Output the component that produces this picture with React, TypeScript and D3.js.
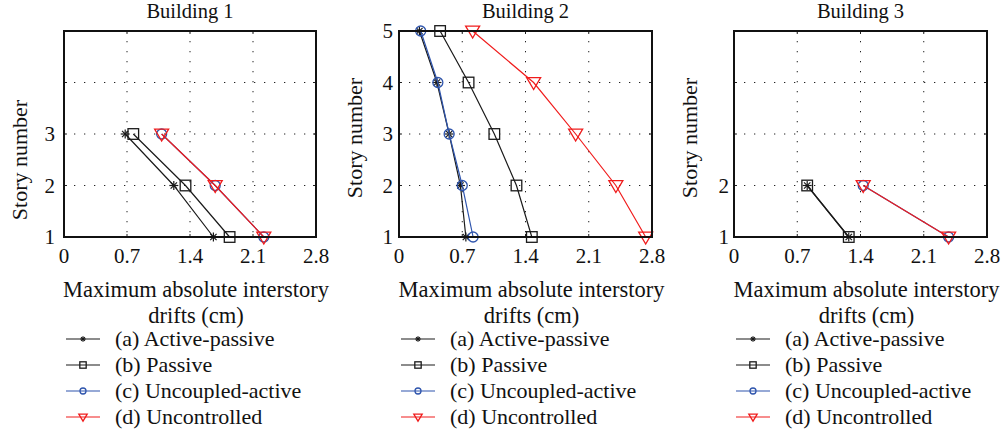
import React from "react";
import * as d3 from "d3";

const xTicks = [0, 0.7, 1.4, 2.1, 2.8];
const storyGrid = [1, 2, 3, 4, 5];
const buildingTitles = ["Building 1", "Building 2", "Building 3"];
const storyLabels1 = [1, 2, 3];
const storyLabels2 = [1, 2, 3, 4, 5];
const storyLabels3 = [1, 2];
const seriesNames = ["(a) Active-passive", "(b) Passive", "(c) Uncoupled-active", "(d) Uncontrolled"];

// Building 1 (stories 1..3)
const b1Stories = [1, 2, 3];
const b1ActivePassive = [1.66, 1.22, 0.68];
const b1Passive = [1.84, 1.35, 0.77];
const b1UncoupledActive = [2.22, 1.68, 1.085];
const b1Uncontrolled = [2.22, 1.68, 1.085];

// Building 2 (stories 1..5)
const b2Stories = [1, 2, 3, 4, 5];
const b2ActivePassive = [0.74, 0.68, 0.555, 0.42, 0.226];
const b2Passive = [1.47, 1.3, 1.055, 0.77, 0.455];
const b2UncoupledActive = [0.82, 0.7, 0.555, 0.43, 0.24];
const b2Uncontrolled = [2.73, 2.4, 1.955, 1.49, 0.815];

// Building 3 (stories 1..2)
const b3Stories = [1, 2];
const b3ActivePassive = [1.27, 0.81];
const b3Passive = [1.27, 0.81];
const b3UncoupledActive = [2.375, 1.43];
const b3Uncontrolled = [2.375, 1.43];

const COLORS = ["#1a1a1a", "#1a1a1a", "#2f55ad", "#f01c1c"];
const MARKERS = ["star", "square", "circle", "tri"];
const FONT = '"Liberation Serif", "Times New Roman", Tinos';
const CSS = 'svg text, svg tspan { font-family: "Liberation Serif", "Times New Roman", Tinos !important; }';

type Panel = {
  title: string;
  left: number;
  width: number;
  stories: number[];
  series: number[][];
  yLabels: number[];
  yTickGap: number;
  yTitleX: number;
  yTitleY: number;
};

const panels: Panel[] = [
  { title: buildingTitles[0], left: 64, width: 252, stories: b1Stories,
    series: [b1ActivePassive, b1Passive, b1UncoupledActive, b1Uncontrolled],
    yLabels: storyLabels1, yTickGap: 9, yTitleX: 27, yTitleY: 160 },
  { title: buildingTitles[1], left: 399, width: 253, stories: b2Stories,
    series: [b2ActivePassive, b2Passive, b2UncoupledActive, b2Uncontrolled],
    yLabels: storyLabels2, yTickGap: 6, yTitleX: 362, yTitleY: 138 },
  { title: buildingTitles[2], left: 734, width: 253, stories: b3Stories,
    series: [b3ActivePassive, b3Passive, b3UncoupledActive, b3Uncontrolled],
    yLabels: storyLabels3, yTickGap: 5, yTitleX: 697, yTitleY: 138 },
];

const TOP = 31;
const BOTTOM = 237;

function T(props: any) {
  const { size, children, ...rest } = props;
  return (
    <text {...rest} fontSize={size} fontFamily={FONT} style={{ fontFamily: FONT }} fill="#111">
      {children}
    </text>
  );
}

function Marker({ kind, x, y, color, s }: { kind: string; x: number; y: number; color: string; s: number }) {
  if (kind === "star") {
    const r = 4.5 * s;
    const d = r * 0.7071;
    return (
      <g stroke={color} strokeWidth={1.2}>
        <line x1={x - r} y1={y} x2={x + r} y2={y} />
        <line x1={x} y1={y - r} x2={x} y2={y + r} />
        <line x1={x - d} y1={y - d} x2={x + d} y2={y + d} />
        <line x1={x - d} y1={y + d} x2={x + d} y2={y - d} />
      </g>
    );
  }
  if (kind === "square") {
    const h = 5.3 * s;
    return <rect x={x - h} y={y - h} width={2 * h} height={2 * h} fill="none" stroke={color} strokeWidth={1.3} />;
  }
  if (kind === "circle") {
    return <circle cx={x} cy={y} r={5 * s} fill="none" stroke={color} strokeWidth={1.3} />;
  }
  const w = 7 * s;
  const hUp = 4.8 * s;
  const hDn = 7 * s;
  return (
    <path d={`M${x - w},${y - hUp}L${x + w},${y - hUp}L${x},${y + hDn}Z`} fill="none" stroke={color} strokeWidth={1.3} />
  );
}

function PanelView({ p }: { p: Panel }) {
  const x = d3.scaleLinear().domain([0, 2.8]).range([p.left, p.left + p.width]);
  const y = d3.scaleLinear().domain([1, 5]).range([BOTTOM, TOP]);
  const line = d3.line<[number, number]>().x((d) => x(d[0])).y((d) => y(d[1]));
  const right = p.left + p.width;
  const cx = p.left + p.width / 2;
  return (
    <g>
      <T x={cx} y={18} textAnchor="middle" size={20.5}>{p.title}</T>
      {xTicks.slice(1, -1).map((t) => (
        <line key={"gx" + t} x1={x(t)} x2={x(t)} y1={TOP} y2={BOTTOM} stroke="#222" strokeWidth={1} strokeDasharray="1.3,8.7" />
      ))}
      {storyGrid.slice(1, -1).map((t) => (
        <line key={"gy" + t} x1={p.left} x2={right} y1={y(t)} y2={y(t)} stroke="#222" strokeWidth={1} strokeDasharray="1.3,8.7" />
      ))}
      {xTicks.map((t) => (
        <g key={"tx" + t} stroke="#222" strokeWidth={1}>
          <line x1={x(t)} x2={x(t)} y1={BOTTOM} y2={BOTTOM - 3} />
          <line x1={x(t)} x2={x(t)} y1={TOP} y2={TOP + 3} />
        </g>
      ))}
      {storyGrid.map((t) => (
        <g key={"ty" + t} stroke="#222" strokeWidth={1}>
          <line x1={p.left} x2={p.left + 3} y1={y(t)} y2={y(t)} />
          <line x1={right} x2={right - 3} y1={y(t)} y2={y(t)} />
        </g>
      ))}
      {p.series.map((vals, i) => {
        const pts: [number, number][] = vals.map((v, k) => [v, p.stories[k]]);
        return (
          <g key={"s" + i}>
            <path d={line(pts) || ""} fill="none" stroke={COLORS[i]} strokeWidth={1.2} />
            {pts.map((pt, k) => (
              <Marker key={k} kind={MARKERS[i]} x={x(pt[0])} y={y(pt[1])} color={COLORS[i]} s={1} />
            ))}
          </g>
        );
      })}
      <rect x={p.left} y={TOP} width={p.width} height={BOTTOM - TOP} fill="none" stroke="#111" strokeWidth={2} />
      {xTicks.map((t) => (
        <T key={"xl" + t} x={x(t)} y={263} textAnchor="middle" size={21}>{String(t)}</T>
      ))}
      {p.yLabels.map((t) => (
        <T key={"yl" + t} x={p.left - p.yTickGap} y={y(t) + 7} textAnchor="end" size={21}>{String(t)}</T>
      ))}
      <T transform={`translate(${p.yTitleX},${p.yTitleY}) rotate(-90)`} textAnchor="middle" size={22}>Story number</T>
      <T x={cx + 6} y={297} textAnchor="middle" size={22.5}>Maximum absolute interstory</T>
      <T x={cx + 6} y={323} textAnchor="middle" size={22.5}>drifts (cm)</T>
      {seriesNames.map((name, i) => {
        const ly = 339 + i * 26;
        const lx = p.left + 2;
        return (
          <g key={"lg" + i}>
            <line x1={lx} x2={lx + 34} y1={ly} y2={ly} stroke={COLORS[i]} strokeWidth={1.2} />
            <Marker kind={MARKERS[i]} x={lx + 17} y={ly} color={COLORS[i]} s={0.6} />
            <T x={lx + 49} y={ly + 7} size={22}>{name}</T>
          </g>
        );
      })}
    </g>
  );
}

export default function App() {
  return (
    <div style={{ position: "absolute", left: 0, top: 0, fontFamily: FONT }}>
      <style>{CSS}</style>
      <svg width={1003} height={434} style={{ display: "block", background: "#fff" }}>
        {panels.map((p, i) => (
          <PanelView key={i} p={p} />
        ))}
      </svg>
    </div>
  );
}
